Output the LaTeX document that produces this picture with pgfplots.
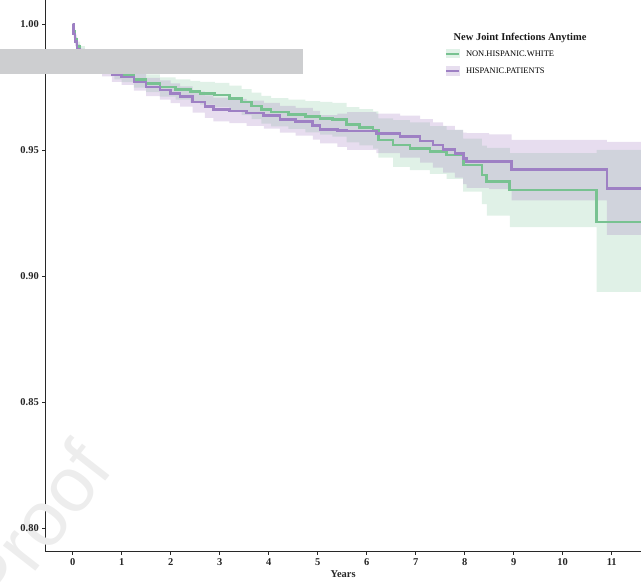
\documentclass[border=0pt]{standalone}
\usepackage{pgfplots}
\usepackage{pgfplotstable}
\pgfplotsset{compat=1.18}
\usepgfplotslibrary{fillbetween}
\usepackage{fontspec}
\setmainfont{Liberation Serif}
\newfontfamily\wmfont{Liberation Sans}

\definecolor{gline}{RGB}{120,194,145}
\definecolor{pline}{RGB}{158,128,196}
\definecolor{gbase}{RGB}{120,195,150}
\definecolor{pbase}{RGB}{160,120,190}
\definecolor{gkey}{RGB}{224,241,231}
\definecolor{pkey}{RGB}{231,222,239}
\definecolor{axisgray}{RGB}{40,40,40}
\definecolor{boxgray}{RGB}{205,206,208}

% Kaplan-Meier estimates with confidence limits
\pgfplotstableread{
t     s      lo     hi
0.00  1.0000 1.0000 1.0000
0.02  0.9970 0.9955 0.9985
0.05  0.9940 0.9922 0.9958
0.09  0.9910 0.9890 0.9930
0.15  0.9890 0.9868 0.9912
0.25  0.9870 0.9846 0.9894
0.40  0.9850 0.9824 0.9876
0.60  0.9830 0.9802 0.9858
0.85  0.9810 0.9780 0.9840
1.00  0.9800 0.9769 0.9831
1.25  0.9780 0.9747 0.9813
1.50  0.9765 0.9730 0.9800
1.78  0.9750 0.9712 0.9788
2.10  0.9740 0.9700 0.9780
2.40  0.9731 0.9688 0.9774
2.60  0.9725 0.9680 0.9770
2.90  0.9718 0.9670 0.9766
3.20  0.9705 0.9655 0.9755
3.45  0.9690 0.9638 0.9742
3.65  0.9675 0.9622 0.9728
3.85  0.9660 0.9605 0.9715
4.05  0.9650 0.9594 0.9706
4.40  0.9642 0.9584 0.9700
4.75  0.9632 0.9570 0.9694
5.05  0.9626 0.9561 0.9691
5.30  0.9620 0.9553 0.9687
5.59  0.9600 0.9530 0.9670
5.85  0.9590 0.9518 0.9662
6.13  0.9579 0.9505 0.9653
6.24  0.9540 0.9470 0.9625
6.54  0.9520 0.9433 0.9619
6.88  0.9507 0.9420 0.9610
7.29  0.9493 0.9405 0.9595
7.63  0.9480 0.9385 0.9580
7.97  0.9440 0.9335 0.9545
8.35  0.9401 0.9285 0.9517
8.45  0.9374 0.9240 0.9508
8.92  0.9341 0.9194 0.9488
10.69 0.9215 0.8937 0.9500
11.60 0.9215 0.8937 0.9500
}\white

\pgfplotstableread{
t     s      lo     hi
0.00  1.0000 1.0000 1.0000
0.02  0.9960 0.9945 0.9975
0.05  0.9930 0.9912 0.9948
0.09  0.9900 0.9880 0.9920
0.15  0.9880 0.9858 0.9902
0.25  0.9860 0.9836 0.9884
0.40  0.9840 0.9814 0.9866
0.60  0.9820 0.9792 0.9848
0.80  0.9800 0.9770 0.9830
1.00  0.9790 0.9758 0.9822
1.25  0.9770 0.9736 0.9804
1.50  0.9750 0.9714 0.9786
1.78  0.9738 0.9700 0.9776
2.00  0.9725 0.9686 0.9764
2.19  0.9712 0.9672 0.9752
2.45  0.9690 0.9648 0.9732
2.70  0.9672 0.9627 0.9717
2.87  0.9661 0.9614 0.9708
3.20  0.9655 0.9607 0.9703
3.55  0.9646 0.9596 0.9696
3.90  0.9636 0.9585 0.9687
4.23  0.9622 0.9569 0.9675
4.55  0.9612 0.9557 0.9667
4.90  0.9598 0.9541 0.9655
5.05  0.9582 0.9526 0.9638
5.40  0.9578 0.9512 0.9644
5.60  0.9575 0.9500 0.9650
6.20  0.9566 0.9488 0.9644
6.68  0.9553 0.9470 0.9636
7.09  0.9536 0.9450 0.9622
7.35  0.9520 0.9430 0.9610
7.56  0.9503 0.9410 0.9596
7.80  0.9485 0.9390 0.9580
7.97  0.9467 0.9365 0.9569
8.04  0.9454 0.9350 0.9567
8.50  0.9454 0.9345 0.9562
8.96  0.9423 0.9300 0.9540
10.90 0.9348 0.9163 0.9532
11.60 0.9348 0.9163 0.9532
}\hispanic

\begin{document}
\begin{tikzpicture}
% faint watermark behind the plot
\node[rotate=52, anchor=base east, text=black!7, inner sep=0pt,
      font=\wmfont\fontsize{78}{78}\selectfont] at (70bp,82bp) {Proof};

\begin{axis}[
  scale only axis,
  width=595.7bp, height=551.7bp,
  xmin=-0.559, xmax=11.598,
  ymin=0.7906, ymax=1.00952,
  axis x line*=bottom, axis y line*=left,
  axis line style={axisgray, line width=0.9bp, -},
  xtick={0,...,11},
  ytick={0.80,0.85,0.90,0.95,1.00},
  tick align=outside,
  major tick length=3bp,
  tick style={axisgray, line width=0.9bp},
  /pgf/number format/assume math mode=true,
  ticklabel style={font=\bfseries\fontsize{10.5}{12}\selectfont, text=black!85},
  yticklabel style={/pgf/number format/.cd, fixed, fixed zerofill, precision=2},
  xlabel={Years},
  xlabel style={font=\bfseries\fontsize{10.5}{12}\selectfont, text=black!85, yshift=1bp},
  clip=false,
  legend cell align=left,
  legend style={at={(axis cs:7.598,0.98988)}, anchor=north west,
    draw=none, fill=none, inner sep=0pt, outer sep=0pt,
    font=\fontsize{8.5}{10}\selectfont, row sep=8.4bp,
    nodes={inner sep=0pt, text depth=0pt},
    /tikz/every odd column/.append style={column sep=6bp}},
]
% step curves
\addplot[const plot, gline, line width=2.6bp, forget plot] table[x=t, y=s] {\white};
\addplot[const plot, pline, line width=2.6bp, forget plot] table[x=t, y=s] {\hispanic};

% confidence bands
\addplot[const plot, draw=none, name path=wlo, forget plot] table[x=t, y=lo] {\white};
\addplot[const plot, draw=none, name path=whi, forget plot] table[x=t, y=hi] {\white};
\addplot[fill=gbase, fill opacity=0.23, draw=none, forget plot] fill between[of=whi and wlo];
\addplot[const plot, draw=none, name path=hlo, forget plot] table[x=t, y=lo] {\hispanic};
\addplot[const plot, draw=none, name path=hhi, forget plot] table[x=t, y=hi] {\hispanic};
\addplot[fill=pbase, fill opacity=0.25, draw=none, forget plot] fill between[of=hhi and hlo];

% legend
\addlegendimage{legend image code/.code={
  \fill[gkey] (0bp,-4bp) rectangle (13bp,4bp);
  \draw[gline, line width=2bp] (0bp,0bp) -- (13bp,0bp);}}
\addlegendentry{NON.HISPANIC.WHITE}
\addlegendimage{legend image code/.code={
  \fill[pkey] (0bp,-4.5bp) rectangle (13bp,4.5bp);
  \draw[pline, line width=2bp] (0bp,0bp) -- (13bp,0bp);}}
\addlegendentry{HISPANIC.PATIENTS}

\node[font=\bfseries\fontsize{10.5}{12}\selectfont, text=black!90]
  at (axis cs:9.13,0.99463) {New Joint Infections Anytime};

% grey bar across the upper left
\fill[boxgray] (axis cs:-2,0.99008) rectangle (axis cs:4.70,0.98016);
\end{axis}

\pgfresetboundingbox
\useasboundingbox (-45.3bp,-31.3bp) rectangle (595.7bp,551.7bp);
\end{tikzpicture}
\end{document}
